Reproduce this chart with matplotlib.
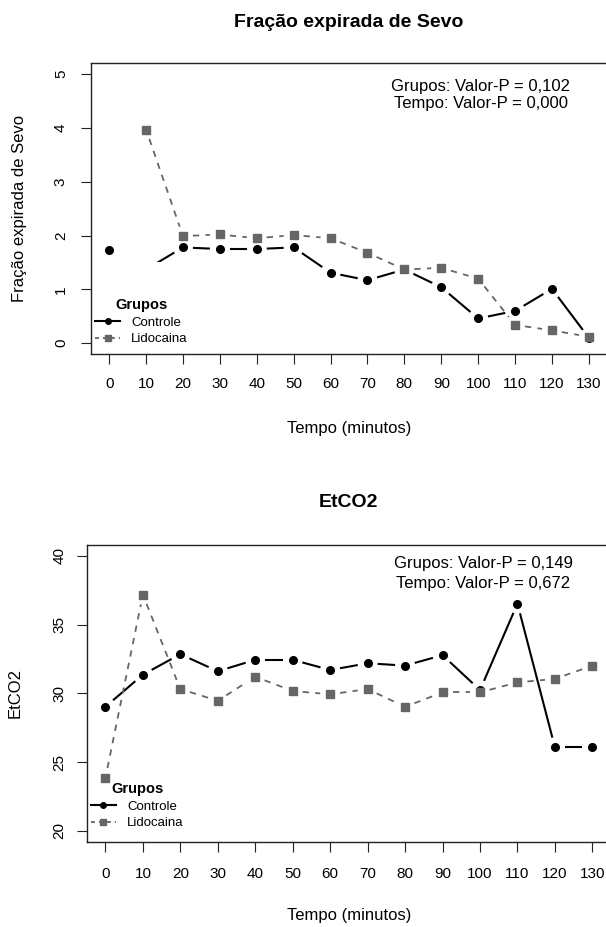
import numpy as np
import matplotlib.pyplot as plt
from matplotlib.lines import Line2D

plt.rcParams['font.family'] = ['Liberation Sans', 'DejaVu Sans']

# dados
tempo = [0, 10, 20, 30, 40, 50, 60, 70, 80, 90, 100, 110, 120, 130]
grupos = ['Controle', 'Lidocaina']

sevo_controle = [1.73, 1.37, 1.78, 1.75, 1.75, 1.78, 1.31, 1.17, 1.37, 1.04, 0.46, 0.60, 1.01, 0.10]
sevo_lidocaina = [np.nan, 3.97, 1.99, 2.02, 1.95, 2.01, 1.95, 1.68, 1.37, 1.40, 1.20, 0.34, 0.24, 0.12]
sevo_pvalores = ['0,102', '0,000']

etco2_controle = [29.02, 31.36, 32.85, 31.61, 32.44, 32.44, 31.70, 32.19, 32.02, 32.78, 30.24, 36.53, 26.07, 26.07]
etco2_lidocaina = [23.85, 37.19, 30.31, 29.46, 31.21, 30.17, 29.93, 30.31, 29.02, 30.07, 30.07, 30.80, 31.05, 32.02]
etco2_pvalores = ['0,149', '0,672']

W, H = 606, 927
COR_CTRL = '#000000'
COR_LIDO = '#666666'
LEG_FS = 9.5
LEG_PX = LEG_FS * 100 / 72


def px(x, y):
    """pixel -> fracao da figura"""
    return x / W, 1 - y / H


def linhas_b(ax, x, y, gap=10, start=0, **kw):
    """linhas como type='b' do R: segmentos com espaco em volta dos pontos"""
    pts = ax.transData.transform(np.column_stack([x, y]))
    inv = ax.transData.inverted()
    for i in range(start, len(x) - 1):
        p0, p1 = pts[i], pts[i + 1]
        if not (np.isfinite(p0).all() and np.isfinite(p1).all()):
            continue
        d = p1 - p0
        L = np.hypot(*d)
        if L <= 2 * gap:
            continue
        u = d / L
        seg = inv.transform([p0 + u * gap, p1 - u * gap])
        ax.plot(seg[:, 0], seg[:, 1], **kw)


def painel(rect, ctrl, lido, ylim, yticks, ylabel, titulo, pvals, ptxt_xy, tick_pad, ylab_pad, skip_ctrl=0):
    ax = fig.add_axes(rect)
    x = np.arange(len(tempo))
    ax.set_xlim(-0.5, len(tempo) - 0.5)
    ax.set_ylim(*ylim)

    linhas_b(ax, x, ctrl, start=skip_ctrl, color=COR_CTRL, lw=1.5, solid_capstyle='butt', zorder=2)
    linhas_b(ax, x, lido, color=COR_LIDO, lw=1.3, ls=(0, (3.5, 3.5)), zorder=2)
    ax.plot(x, ctrl, ls='none', marker='o', ms=5.5, color=COR_CTRL, zorder=3)
    ax.plot(x, lido, ls='none', marker='s', ms=6, color=COR_LIDO, zorder=3)

    ax.set_xticks(x)
    ax.set_xticklabels([str(t) for t in tempo])
    ax.set_yticks(yticks)
    ax.tick_params(axis='both', length=7.2, width=0.8, labelsize=11, color='#222222')
    ax.tick_params(axis='x', pad=tick_pad)
    ax.tick_params(axis='y', pad=ylab_pad)
    plt.setp(ax.get_yticklabels(), rotation=90, va='center')
    for s in ax.spines.values():
        s.set_linewidth(1.0)
        s.set_color('#222222')
        s.set_zorder(6)
    ax.xaxis.set_zorder(6)
    ax.yaxis.set_zorder(6)

    ax.set_xlabel('Tempo (minutos)', fontsize=12, va='center')
    ax.set_ylabel(ylabel, fontsize=12, va='center')
    ax.text(0.5, 1.142, titulo, transform=ax.transAxes, ha='center', va='center',
            fontsize=14, fontweight='bold')
    px_, (py1, py2) = ptxt_xy
    ax.text(px_, py1, 'Grupos: Valor-P = ' + pvals[0], transform=ax.transAxes,
            ha='center', va='center', fontsize=12)
    ax.text(px_, py2, 'Tempo: Valor-P = ' + pvals[1], transform=ax.transAxes,
            ha='center', va='center', fontsize=12)
    return ax


def legenda(ax, anchor, borderpad, frame):
    handles = [Line2D([], [], color=COR_CTRL, lw=1.5, marker='o', ms=4),
               Line2D([], [], color=COR_LIDO, lw=1.3, ls=(0, (2.2, 2.2)), marker='s', ms=4.5)]
    leg = ax.legend(handles, grupos, title='Grupos', loc='upper left',
                    bbox_to_anchor=anchor, bbox_transform=fig.transFigure,
                    borderaxespad=0, borderpad=borderpad, frameon=frame,
                    fontsize=LEG_FS, title_fontproperties={'size': 10.5, 'weight': 'bold'},
                    handlelength=1.9, handletextpad=0.85, labelspacing=0.33,
                    fancybox=False)
    if frame:
        leg.get_frame().set_facecolor('white')
        leg.get_frame().set_edgecolor('none')
        leg.get_frame().set_alpha(1)
    leg.set_zorder(5)
    return leg


fig = plt.figure(figsize=(W / 100, H / 100), dpi=100)

# painel de cima
x0, y0 = px(90.7, 354)
ax1 = painel([x0, y0, 516.6 / W, 290.7 / H], sevo_controle, sevo_lidocaina,
             (-0.2, 5.2), [0, 1, 2, 3, 4, 5], 'Fração expirada de Sevo',
             'Fração expirada de Sevo', sevo_pvalores, (0.7546, (0.9219, 0.8634)),
             tick_pad=9.7, ylab_pad=9.2, skip_ctrl=1)
ax1.xaxis.set_label_coords(0.5, -0.2546)
ax1.yaxis.set_label_coords(-0.1369, 0.5)
legenda(ax1, px(95 - 36, 262), 36 / LEG_PX, True)

# painel de baixo
x0, y0 = px(86.7, 841.7)
ax2 = painel([x0, y0, 524.4 / W, 296.7 / H], etco2_controle, etco2_lidocaina,
             (19.2, 40.8), [20, 25, 30, 35, 40], 'EtCO2',
             'EtCO2', etco2_pvalores, (0.7567, (0.938, 0.8696)),
             tick_pad=11, ylab_pad=7.3)
ax2.xaxis.set_label_coords(0.5, -0.2504)
ax2.yaxis.set_label_coords(-0.1367, 0.5)
legenda(ax2, px(85.4, 777), 0.4, False)

fig.savefig('out.png', dpi=100)
